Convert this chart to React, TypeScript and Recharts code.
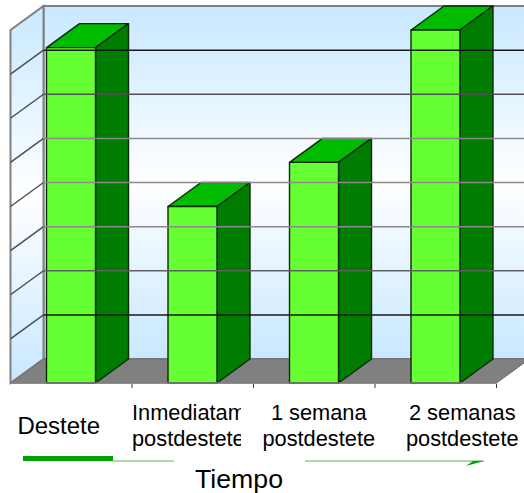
import { Bar, BarChart, Customized, ReferenceArea, ReferenceLine, XAxis, YAxis } from "recharts";

const categories = [
  ["Destete"],
  ["Inmediatam", "postdestete"],
  ["1 semana", "postdestete"],
  ["2 semanas", "postdestete"],
];
const values = [7.6, 4, 5, 8];
const gridValues = [1, 2, 3, 4, 5, 6, 7];
const gridShades = ["#181818", "#606060", "#8a8a8a", "#8a8a8a", "#8a8a8a", "#505050", "#181818"];

const data = categories.map((lines, i) => ({ name: lines.join(" "), value: values[i] }));

// oblique offset of the back of the box
const DX = 33;
const DY = -24;
const BAND = 121.5;
const FONT = "'Liberation Sans', Arial, sans-serif";
const WALL_STROKE = "#808080";

// label centres are not on the band centres in this layout
const labelShift = [-12.5, 0, 4.5, 26.5];

const Walls = ({ x, y, width, height }: any) => {
  const bottom = y + height;
  const right = x + width;
  return (
    <g>
      <rect x={x + DX} y={y + DY} width={width} height={height} fill="url(#wallFill)" stroke={WALL_STROKE} strokeWidth={2} />
      <path
        d={`M${x} ${y}L${x + DX} ${y + DY}L${x + DX} ${bottom + DY}L${x} ${bottom}Z`}
        fill="url(#wallFill)"
        stroke={WALL_STROKE}
        strokeWidth={2}
      />
      <path
        d={`M${x} ${bottom}L${x + DX} ${bottom + DY}L${right + DX} ${bottom + DY}L${right} ${bottom}Z`}
        fill="#808080"
        stroke="#6e6e6e"
      />
    </g>
  );
};

const Box = ({ x, y, width, height }: any) => {
  const r = x + width;
  const b = y + height;
  return (
    <g stroke="#0a2a0a" strokeWidth={1.4} strokeLinejoin="round">
      <path d={`M${x} ${y}L${x + DX} ${y + DY}L${r + DX} ${y + DY}L${r} ${y}Z`} fill="#00bb00" />
      <path d={`M${r} ${y}L${r + DX} ${y + DY}L${r + DX} ${b + DY}L${r} ${b}Z`} fill="#007c00" />
      <rect x={x} y={y} width={width} height={height} fill="#66ff33" />
    </g>
  );
};

// horizontal rule on the back wall, wrapping round the left wall
const wallRule = (shade: string) => (props: any) => {
  const { x1, x2, y1 } = props;
  return (
    <g fill="none" strokeWidth={1.5}>
      <path d={`M${x1} ${y1}L${x1 + DX} ${y1 + DY}`} stroke="#505050" />
      <path d={`M${x1 + DX} ${y1 + DY}H${x2 + DX}`} stroke={shade} />
    </g>
  );
};

const CategoryTick = ({ x, y, index }: any) => {
  const lines = categories[index] ?? [];
  const single = lines.length === 1;
  const left = x - BAND / 2;
  return (
    <g>
      <line x1={x + BAND / 2} y1={y - 7} x2={x + BAND / 2} y2={y - 3} stroke="#333" />
      <clipPath id={`tick-clip-${index}`}>
        <rect x={left} y={y} width={index === 1 ? 109 : 160} height={70} />
      </clipPath>
      <g clipPath={`url(#tick-clip-${index})`}>
        {lines.map((line: string, i: number) => (
          <text
            key={line}
            x={index === 1 ? left : x + labelShift[index]}
            y={single ? y + 43 : y + 29 + i * 26}
            textAnchor={index === 1 ? "start" : "middle"}
            fontFamily={FONT}
            fontSize={single ? 24 : 21.8}
            fill="#000"
          >
            {line}
          </text>
        ))}
      </g>
    </g>
  );
};

// broken green arrow running under the axis title
const TimeArrow = () => (
  <g>
    <rect x={23} y={456} width={90} height={5} fill="#00a000" />
    <path d="M113 461H174M305 461H484" stroke="#58b858" strokeWidth={1} fill="none" />
    <path d="M466 466L473 461H484Z" fill="#00a000" />
    <text x={239} y={488} textAnchor="middle" fontFamily={FONT} fontSize={26.7} fill="#000">
      Tiempo
    </text>
  </g>
);

export default function App() {
  return (
    <div style={{ position: "absolute", left: 0, top: 0 }}>
      <BarChart width={524} height={493} data={data} margin={{ top: 30, right: 27.5, bottom: 0, left: 10.5 }}>
        <defs>
          <linearGradient id="wallFill" x1="0" y1="0" x2="0" y2="1">
            <stop offset="0" stopColor="#c8e8ff" />
            <stop offset="0.5" stopColor="#ffffff" />
            <stop offset="1" stopColor="#c8e8ff" />
          </linearGradient>
        </defs>
        <YAxis hide domain={[0, 8]} />
        <XAxis
          dataKey="name"
          interval={0}
          axisLine={{ stroke: "#808080", strokeWidth: 1.5 }}
          tickLine={false}
          tick={<CategoryTick />}
          height={110}
        />
        <ReferenceArea
          x1={data[0].name}
          x2={data[data.length - 1].name}
          y1={0}
          y2={8}
          shape={Walls}
          ifOverflow="visible"
        />
        {gridValues.map((v, i) => (
          <ReferenceLine key={v} y={v} shape={wallRule(gridShades[i])} ifOverflow="visible" />
        ))}
        <Bar dataKey="value" barSize={49} shape={Box} isAnimationActive={false} />
        <Customized component={TimeArrow} />
      </BarChart>
    </div>
  );
}
